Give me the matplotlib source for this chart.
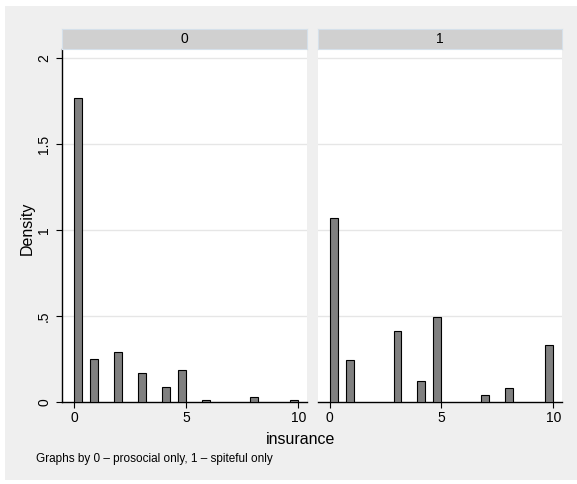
import numpy as np
import matplotlib
matplotlib.use("Agg")
import matplotlib.pyplot as plt
from matplotlib.patches import Rectangle

# --- data (density per bin, 28 bins on 0..10) ---
panel_labels = ["0", "1"]
values_0  = [0, 1, 2, 3, 4, 5, 6, 8, 10]
density_0 = [1.771, 0.253, 0.292, 0.169, 0.087, 0.186, 0.012, 0.029, 0.012]
values_1  = [0, 1, 3, 4, 5, 7, 8, 10]
density_1 = [1.070, 0.248, 0.413, 0.124, 0.496, 0.041, 0.083, 0.331]
x_ticks = [0, 5, 10]
y_ticks = [0, 0.5, 1, 1.5, 2]
y_tick_labels = ["0", ".5", "1", "1.5", "2"]

N_BINS = 28
W, H = 577, 484

plt.rcParams["font.family"] = ["Liberation Sans", "DejaVu Sans"]

fig = plt.figure(figsize=(W / 100, H / 100), dpi=100, facecolor="white")

# stata-ish light grey graph region
fig.patches.append(Rectangle((5 / W, 4 / H), 1, (H - 10) / H, transform=fig.transFigure,
                             facecolor="#efefef", edgecolor="none", zorder=-10))

edges = np.linspace(0, 10, N_BINS + 1)
bw = edges[1] - edges[0]


def bin_left(vals):
    v = np.asarray(vals, dtype=float)
    idx = np.ceil(np.round(v / bw, 9)).astype(int) - 1
    idx = np.clip(idx, 0, N_BINS - 1)
    return edges[idx]


def px_box(x0, y0, x1, y1):
    # pixel box (top-left origin) -> figure fraction rect
    return [x0 / W, 1 - y1 / H, (x1 - x0) / W, (y1 - y0) / H]


panels = [
    (62.3, 307.3, values_0, density_0),
    (317.7, 562.3, values_1, density_1),
]
top, bottom = 49.3, 402.3

for i, (x0, x1, vals, dens) in enumerate(panels):
    ax = fig.add_axes(px_box(x0, top, x1, bottom))
    ax.set_facecolor("white")
    ax.bar(bin_left(vals), dens, width=bw, align="edge",
           color="#808080", edgecolor="black", linewidth=0.8, zorder=3)
    ax.set_xlim(-0.53, 10.4)
    ax.set_ylim(0, 2.052)
    ax.set_yticks(y_ticks)
    for yv in y_ticks[1:]:
        ax.axhline(yv, color="#e6e6e6", linewidth=1.0, zorder=1)
    ax.set_xticks(x_ticks)
    ax.set_xticklabels([str(t) for t in x_ticks], fontsize=10)
    ax.tick_params(axis="x", length=4, width=0.8, pad=2.5, colors="black")
    for s in ["top", "right"]:
        ax.spines[s].set_visible(False)
    ax.spines["bottom"].set_linewidth(1.0)
    if i == 0:
        ax.set_yticklabels(y_tick_labels, fontsize=10, rotation=90, va="center")
        ax.tick_params(axis="y", length=4, width=0.8, pad=4)
        ax.spines["left"].set_linewidth(1.0)
    else:
        ax.spines["left"].set_visible(False)
        ax.tick_params(axis="y", left=False, labelleft=False)

    # strip header
    sax = fig.add_axes(px_box(x0, 28.5, x1, 49.3))
    sax.set_facecolor("#d0d0d0")
    sax.set_xticks([])
    sax.set_yticks([])
    for s in sax.spines.values():
        s.set_color("#d5e0ea")
        s.set_linewidth(0.8)
    sax.text(0.5, 0.5, panel_labels[i], ha="center", va="center", fontsize=10,
             transform=sax.transAxes)

fig.text(27 / W, 1 - 228 / H, "Density", rotation=90, ha="center", va="center", fontsize=11.5)
fig.text(301 / W, 1 - 440 / H, "insurance", ha="center", va="center", fontsize=11.5)
fig.text(36 / W, 1 - 459 / H, "Graphs by 0 \u2013 prosocial only, 1 \u2013 spiteful only",
         ha="left", va="center", fontsize=8.5)

fig.savefig("out.png", dpi=100, facecolor="white")
